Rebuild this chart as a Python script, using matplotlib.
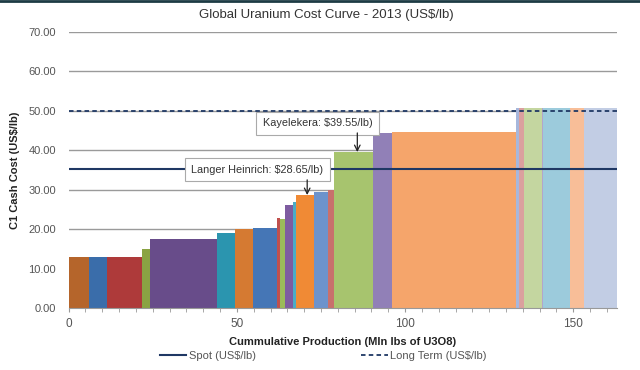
import matplotlib
import numpy as np

matplotlib.use("Agg")

import matplotlib.pyplot as plt
import matplotlib.ticker as mticker
from matplotlib.lines import Line2D

# production of each mine (Mln lbs U3O8) and its C1 cash cost (US$/lb)
production = [6.1, 5.2, 10.4, 2.6, 19.7, 5.3, 5.5, 7.0, 0.9, 1.5, 2.5, 1.0, 5.3,
              4.1, 1.7, 11.8, 5.5, 36.9, 0.8, 1.5, 5.3, 0.5, 8.0, 4.2, 9.6]
cost = [12.9, 12.9, 12.9, 14.9, 17.6, 19.0, 20.0, 20.2, 22.8, 22.6, 26.1, 27.0, 28.65,
        29.3, 30.0, 39.55, 44.3, 44.7, 50.7, 50.7, 50.7, 50.7, 50.7, 50.7, 50.7]
colors = ["#B5652B", "#3A6DAA", "#AE3A3A", "#8AA343", "#684C8A", "#2B95AF",
          "#D57A32", "#4576B6", "#C0504D", "#9BBB59", "#7E5CA0", "#4BACC6",
          "#F08A35", "#6C93CC", "#C8706C", "#A7C46E", "#9180B7", "#F5A56B",
          "#A6B7DC", "#DBA09E", "#C4D6A0", "#B3A5CB", "#9CCBDC", "#F8BE98",
          "#C2CDE4"]

spot_price = 35.2
long_term_price = 50.0

callouts = [("Langer Heinrich: $28.65/lb)", 12, (56.0, 35.0), 70.9),
            ("Kayelekera: $39.55/lb)", 15, (74.0, 46.9), 85.8)]

plt.rcParams["font.family"] = ["Liberation Sans", "DejaVu Sans"]
grey = "#555555"

fig = plt.figure(figsize=(6.4, 3.7), dpi=100)
ax = fig.add_axes([0.1073, 0.1676, 0.9641 - 0.1073, 0.9135 - 0.1676])

left = np.concatenate([[0], np.cumsum(production)[:-1]])
ax.bar(left, cost, width=production, align="edge", color=colors,
       linewidth=0, zorder=2)

spot = ax.axhline(spot_price, color="#1F3864", lw=1.5, zorder=3)
lterm = ax.axhline(long_term_price, color="#1F3864", lw=1.3, ls=(0, (2.5, 1.8)), zorder=3)

for label, i, (tx, ty), ax_x in callouts:
    ax.text(tx, ty, label, ha="center", va="center", fontsize=7.8, color="#333333",
            zorder=5,
            bbox=dict(boxstyle="square,pad=0.6", fc="white", ec="#AAAAAA", lw=0.8))
    ax.annotate("", xy=(ax_x, cost[i]), xytext=(ax_x, ty - 2.5),
                arrowprops=dict(arrowstyle="->", color="#222222", lw=0.9,
                                shrinkA=0, shrinkB=0), zorder=6)

ax.set_xlim(0, 163)
ax.set_ylim(0, 70)
ax.yaxis.set_major_locator(mticker.MultipleLocator(10))
ax.yaxis.set_major_formatter(mticker.FormatStrFormatter("%.2f"))
ax.xaxis.set_major_locator(mticker.MultipleLocator(50))
ax.xaxis.set_minor_locator(mticker.MultipleLocator(5))
ax.grid(axis="y", color="#9A9A9A", lw=1.0, zorder=0)
ax.set_axisbelow(True)

for s in ["top", "right", "left"]:
    ax.spines[s].set_visible(False)
ax.spines["bottom"].set_color("#999999")
ax.tick_params(axis="y", length=0, labelsize=8, labelcolor=grey, pad=9)
ax.tick_params(axis="x", which="both", length=3, color="#999999",
               labelsize=8.5, labelcolor=grey, pad=4)

ax.set_xlabel("Cummulative Production (Mln lbs of U3O8)", fontsize=8,
              fontweight="bold", color="#222222", labelpad=5)
ax.set_ylabel("C1 Cash Cost (US$/lb)", fontsize=8, fontweight="bold",
              color="#222222", labelpad=6)

fig.text(0.51, 0.960, "Global Uranium Cost Curve - 2013 (US$/lb)", ha="center",
         va="center", fontsize=9.5, color="#333333")

fig.legend([spot, lterm], ["Spot (US$/lb)", "Long Term (US$/lb)"],
           loc="center", bbox_to_anchor=(0.505, 0.038), ncol=2, frameon=False,
           fontsize=8, labelcolor=grey, handlelength=2.4, handletextpad=0.2,
           columnspacing=9.5)

fig.add_artist(Line2D([0, 1], [0.997, 0.997], transform=fig.transFigure,
                      color="#1D3B44", lw=2))

fig.savefig("out.png", dpi=100)
